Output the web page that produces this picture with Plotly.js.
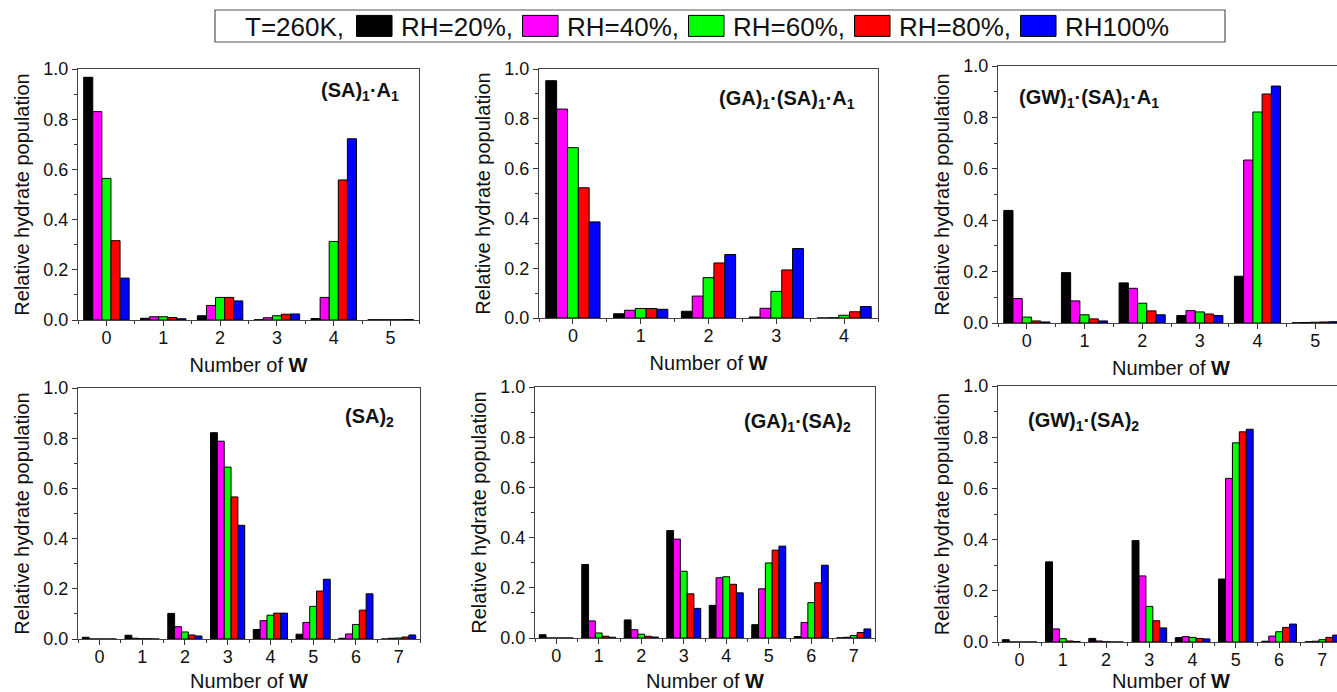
<!DOCTYPE html>
<html>
<head>
<meta charset="utf-8">
<script src="https://cdn.plot.ly/plotly-3.0.1.min.js"></script>
<style>
html, body { margin:0; padding:0; overflow:hidden; background:#fff; }
#chart { width:1345px; height:692px; }
</style>
</head>
<body>
<div id="chart"></div>
<script>
// ---------------- DATA ----------------
const seriesNames = ['RH=20%,', 'RH=40%,', 'RH=60%,', 'RH=80%,', 'RH100%'];
const legendTitle = 'T=260K,';
const xTitle = 'Number of <b>W</b>';
const yTitle = 'Relative hydrate population';

// (SA)1·A1
const w_SA1A1 = [0, 1, 2, 3, 4, 5];
const SA1A1_rh20  = [0.967, 0.007, 0.017, 0.001, 0.006, 0.001];
const SA1A1_rh40  = [0.830, 0.013, 0.058, 0.009, 0.090, 0.001];
const SA1A1_rh60  = [0.564, 0.013, 0.090, 0.017, 0.313, 0.001];
const SA1A1_rh80  = [0.316, 0.010, 0.090, 0.023, 0.558, 0.001];
const SA1A1_rh100 = [0.167, 0.005, 0.076, 0.024, 0.722, 0.002];

// (GA)1·(SA)1·A1
const w_GA1SA1A1 = [0, 1, 2, 3, 4];
const GA1SA1A1_rh20  = [0.953, 0.017, 0.027, 0.004, 0.000];
const GA1SA1A1_rh40  = [0.839, 0.031, 0.088, 0.039, 0.001];
const GA1SA1A1_rh60  = [0.684, 0.038, 0.162, 0.107, 0.011];
const GA1SA1A1_rh80  = [0.523, 0.038, 0.221, 0.193, 0.025];
const GA1SA1A1_rh100 = [0.386, 0.035, 0.255, 0.279, 0.046];

// (GW)1·(SA)1·A1
const w_GW1SA1A1 = [0, 1, 2, 3, 4, 5];
const GW1SA1A1_rh20  = [0.438, 0.196, 0.156, 0.029, 0.182, 0.001];
const GW1SA1A1_rh40  = [0.095, 0.086, 0.135, 0.048, 0.634, 0.002];
const GW1SA1A1_rh60  = [0.023, 0.032, 0.077, 0.043, 0.821, 0.003];
const GW1SA1A1_rh80  = [0.008, 0.016, 0.047, 0.035, 0.891, 0.004];
const GW1SA1A1_rh100 = [0.004, 0.008, 0.032, 0.029, 0.922, 0.005];

// (SA)2
const w_SA2 = [0, 1, 2, 3, 4, 5, 6, 7];
const SA2_rh20  = [0.007, 0.015, 0.102, 0.822, 0.038, 0.019, 0.003, 0.000];
const SA2_rh40  = [0.000, 0.003, 0.049, 0.788, 0.073, 0.066, 0.020, 0.003];
const SA2_rh60  = [0.000, 0.001, 0.028, 0.685, 0.095, 0.130, 0.058, 0.004];
const SA2_rh80  = [0.000, 0.001, 0.016, 0.566, 0.103, 0.191, 0.115, 0.008];
const SA2_rh100 = [0.000, 0.000, 0.012, 0.453, 0.103, 0.238, 0.180, 0.016];

// (GA)1·(SA)2
const w_GA1SA2 = [0, 1, 2, 3, 4, 5, 6, 7];
const GA1SA2_rh20  = [0.013, 0.293, 0.072, 0.428, 0.130, 0.053, 0.006, 0.001];
const GA1SA2_rh40  = [0.000, 0.068, 0.033, 0.394, 0.240, 0.196, 0.062, 0.003];
const GA1SA2_rh60  = [0.000, 0.020, 0.015, 0.266, 0.244, 0.299, 0.141, 0.010];
const GA1SA2_rh80  = [0.000, 0.007, 0.007, 0.176, 0.214, 0.350, 0.220, 0.022];
const GA1SA2_rh100 = [0.000, 0.003, 0.004, 0.118, 0.180, 0.366, 0.290, 0.036];

// (GW)1·(SA)2
const w_GW1SA2 = [0, 1, 2, 3, 4, 5, 6, 7];
const GW1SA2_rh20  = [0.009, 0.313, 0.014, 0.396, 0.017, 0.246, 0.003, 0.001];
const GW1SA2_rh40  = [0.000, 0.051, 0.004, 0.258, 0.021, 0.639, 0.023, 0.003];
const GW1SA2_rh60  = [0.000, 0.013, 0.001, 0.139, 0.018, 0.778, 0.040, 0.009];
const GW1SA2_rh80  = [0.000, 0.004, 0.000, 0.083, 0.014, 0.821, 0.057, 0.018];
const GW1SA2_rh100 = [0.000, 0.002, 0.000, 0.055, 0.012, 0.831, 0.070, 0.027];

const panelLabels = [
  '<b>(SA)<sub>1</sub>·A<sub>1</sub></b>',
  '<b>(GA)<sub>1</sub>·(SA)<sub>1</sub>·A<sub>1</sub></b>',
  '<b>(GW)<sub>1</sub>·(SA)<sub>1</sub>·A<sub>1</sub></b>',
  '<b>(SA)<sub>2</sub></b>',
  '<b>(GA)<sub>1</sub>·(SA)<sub>2</sub></b>',
  '<b>(GW)<sub>1</sub>·(SA)<sub>2</sub></b>'
];

// ---------------- STYLE / LAYOUT ----------------
const colors = ['#000000', '#ff00ff', '#00ff00', '#ff0000', '#0000ff'];
const W = 1345, H = 692;
const FONT = 'Liberation Sans, Arial, sans-serif';

const panelData = [
  {w: w_SA1A1,    s: [SA1A1_rh20, SA1A1_rh40, SA1A1_rh60, SA1A1_rh80, SA1A1_rh100]},
  {w: w_GA1SA1A1, s: [GA1SA1A1_rh20, GA1SA1A1_rh40, GA1SA1A1_rh60, GA1SA1A1_rh80, GA1SA1A1_rh100]},
  {w: w_GW1SA1A1, s: [GW1SA1A1_rh20, GW1SA1A1_rh40, GW1SA1A1_rh60, GW1SA1A1_rh80, GW1SA1A1_rh100]},
  {w: w_SA2,      s: [SA2_rh20, SA2_rh40, SA2_rh60, SA2_rh80, SA2_rh100]},
  {w: w_GA1SA2,   s: [GA1SA2_rh20, GA1SA2_rh40, GA1SA2_rh60, GA1SA2_rh80, GA1SA2_rh100]},
  {w: w_GW1SA2,   s: [GW1SA2_rh20, GW1SA2_rh40, GW1SA2_rh60, GW1SA2_rh80, GW1SA2_rh100]}
];

// pixel boxes of the plot areas [x0, x1, y0(top), y1(bottom)]
const boxes = [
  [78, 419, 69, 320],
  [539, 878, 69, 318],
  [998, 1344, 66, 323],
  [78, 420, 388, 639],
  [535, 875, 387, 638],
  [998, 1344, 386, 642]
];
// label anchor positions [x, y, xanchor]
const labelPos = [
  [401, 92, 'right'],
  [857, 100, 'right'],
  [1017, 98, 'left'],
  [396, 417, 'right'],
  [853, 422, 'right'],
  [1026, 421, 'left']
];

const traces = [];
const layout = {
  width: W, height: H,
  margin: {l: 0, r: 0, t: 0, b: 0},
  paper_bgcolor: '#fff', plot_bgcolor: '#fff',
  font: {family: FONT, color: '#111', size: 17},
  barmode: 'group', bargap: 0.2, bargroupgap: 0,
  showlegend: true,
  legend: {
    orientation: 'h',
    x: 243 / W, xanchor: 'left',
    y: 1 - 26 / H, yanchor: 'middle',
    bgcolor: 'rgba(0,0,0,0)', borderwidth: 0,
    font: {family: FONT, size: 26, color: '#111'},
    title: {text: legendTitle, side: 'left', font: {family: FONT, size: 26, color: '#111'}},
    itemwidth: 39, itemclick: false, itemdoubleclick: false,
    tracegroupgap: 0
  },
  annotations: [],
  shapes: [{
    type: 'rect', xref: 'paper', yref: 'paper', layer: 'below',
    x0: 215 / W, x1: 1225 / W, y0: 1 - 42 / H, y1: 1 - 10 / H,
    line: {color: '#555', width: 1.2}, fillcolor: '#fff'
  }]
};

panelData.forEach((p, i) => {
  const n = i + 1;
  const xa = n === 1 ? 'x' : 'x' + n;
  const ya = n === 1 ? 'y' : 'y' + n;
  p.s.forEach((vals, k) => {
    traces.push({
      type: 'bar', x: p.w, y: vals, name: seriesNames[k],
      xaxis: xa, yaxis: ya,
      marker: {color: colors[k], line: {color: '#000', width: 1}},
      showlegend: i === 0, legendgroup: 'g' + k,
      hoverinfo: 'x+y+name'
    });
  });
  const b = boxes[i];
  const maxW = p.w[p.w.length - 1];
  layout['xaxis' + (n === 1 ? '' : n)] = {
    domain: [b[0] / W, b[1] / W], anchor: ya,
    range: [-0.5, maxW + 0.5],
    tickmode: 'array', tickvals: p.w, ticktext: p.w.map(String),
    ticks: 'outside', ticklen: 5, tickwidth: 1.2, tickcolor: '#333',
    ticklabelstandoff: -4,
    minor: {ticks: 'outside', ticklen: 3, tickwidth: 1.2, tickcolor: '#333', tickmode: 'linear', tick0: -0.5, dtick: 1},
    showline: true, linecolor: '#444', linewidth: 1.2, mirror: true,
    showgrid: false, zeroline: false, fixedrange: true,
    tickfont: {family: FONT, size: 18, color: '#111'},
    title: {text: xTitle, font: {family: FONT, size: 20, color: '#111'}, standoff: 11}
  };
  layout['yaxis' + (n === 1 ? '' : n)] = {
    domain: [1 - b[3] / H, 1 - b[2] / H], anchor: xa,
    range: [0, 1.0],
    tickmode: 'linear', tick0: 0, dtick: 0.2, tickformat: '.1f',
    ticks: 'outside', ticklen: 5, tickwidth: 1.2, tickcolor: '#333',
    minor: {ticks: 'outside', ticklen: 3, tickwidth: 1.2, tickcolor: '#333', dtick: 0.1},
    showline: true, linecolor: '#444', linewidth: 1.2, mirror: true,
    showgrid: false, zeroline: false, fixedrange: true,
    tickfont: {family: FONT, size: 18, color: '#111'},
    title: {text: yTitle, font: {family: FONT, size: 20, color: '#111'}, standoff: 8}
  };
  const lp = labelPos[i];
  layout.annotations.push({
    xref: 'paper', yref: 'paper', x: lp[0] / W, y: 1 - lp[1] / H,
    xanchor: lp[2], yanchor: 'middle', showarrow: false,
    text: panelLabels[i], font: {family: FONT, size: 20, color: '#111'}
  });
});

Plotly.newPlot('chart', traces, layout, {displayModeBar: false}).then(gd => {
  // enlarge the legend swatches to match the reference look
  gd.querySelectorAll('.legend .legendpoints path').forEach(p => {
    p.setAttribute('d', 'M15.5,10.5H-20V-10.5H15.5Z');
  });
});
</script>
</body>
</html>
